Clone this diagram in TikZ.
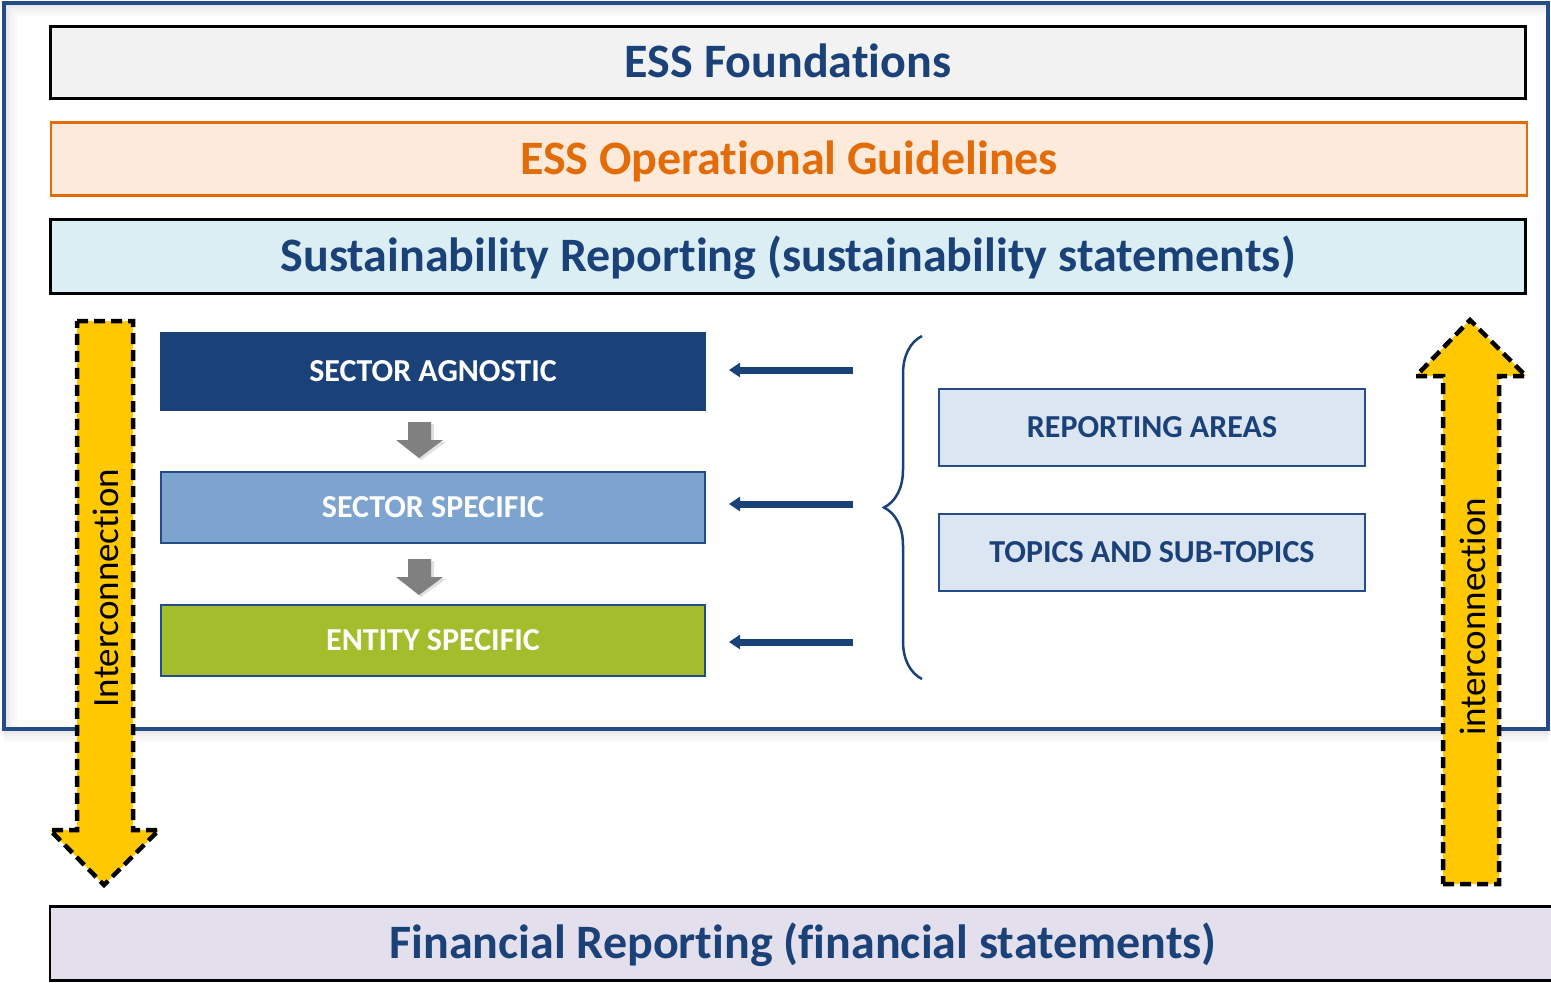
\documentclass[tikz,border=0pt]{standalone}
\usepackage{fontspec}
\setmainfont{Carlito}[Ligatures=NoCommon]
\usetikzlibrary{arrows.meta,decorations.pathreplacing,calc}

\definecolor{navy}{HTML}{1B4179}
\definecolor{frameblue}{HTML}{244C87}
\definecolor{skyblock}{HTML}{7DA4CF}
\definecolor{leafgreen}{HTML}{A3BD2D}
\definecolor{orangeink}{HTML}{E36C0A}
\definecolor{orangewash}{HTML}{FDEADA}
\definecolor{cyanwash}{HTML}{DAEEF3}
\definecolor{bluewash}{HTML}{DCE6F2}
\definecolor{lavender}{HTML}{E4DFEC}
\definecolor{paleGrey}{HTML}{F2F2F2}
\definecolor{amber}{HTML}{FFC800}
\definecolor{stepgrey}{HTML}{808080}

\tikzset{
  band/.style={draw=black, line width=2.5pt, inner sep=0pt,
    font=\fontsize{48}{54}\selectfont\bfseries, text=navy,
    text height=30.5pt, text depth=0pt},
  level/.style={inner sep=0pt, line width=2pt, draw=frameblue,
    font=\fontsize{32}{38}\selectfont\bfseries, text=white,
    minimum width=544, minimum height=71,
    text height=20.5pt, text depth=0pt},
  topic/.style={level, fill=bluewash, text=navy, minimum width=426, minimum height=77},
  feed/.style={line width=7pt, draw=navy, -{Triangle[length=11pt,width=14pt]}},
  bigarrow/.style={fill=amber, draw=black, line width=4.5pt,
    dash pattern=on 11pt off 6pt},
  sidelabel/.style={font=\fontsize{37}{44}\selectfont, text=black, rotate=90, inner sep=0pt}
}

\begin{document}
\begin{tikzpicture}[x=1pt,y=-1pt]
\clip (0,0) rectangle (1551,983);
\fill[white] (0,0) rectangle (1551,983);

% outer frame with a soft shadow
\foreach \k/\o in {1/0.10,2/0.08,3/0.06,4/0.04,5/0.03,6/0.02}{
  \draw[black, opacity=\o, line width=2pt] (4+2*\k,3+2*\k) -- (1548,3+2*\k);
  \draw[black, opacity=\o, line width=2pt] (4+2*\k,3+2*\k) -- (4+2*\k,729);
  \draw[black, opacity=\o, line width=2pt] (4,729+2*\k) -- (1548,729+2*\k);
}
\draw[frameblue, line width=3.5pt] (4,3) rectangle (1548,729);

% three stacked bands at the top
\node[band, fill=paleGrey, minimum width=1475, minimum height=72]
  (found) at (788,62.5) {ESS Foundations};
\node[band, fill=orangewash, draw=orangeink, text=orangeink,
  minimum width=1476, minimum height=73]
  (guide) at (789,159) {ESS Operational Guidelines};
\node[band, fill=cyanwash, minimum width=1475, minimum height=74]
  (sust) at (788,256.5) {Sustainability Reporting (sustainability statements)};

% reporting levels
\node[level, fill=navy, draw=none, minimum width=546, minimum height=79]
  (agn) at (433,371.5) {SECTOR AGNOSTIC};
\node[level, fill=skyblock] (sec) at (433,507.5) {SECTOR SPECIFIC};
\node[level, fill=leafgreen] (ent) at (433,640.5) {ENTITY SPECIFIC};

% grey step arrows between the levels
\foreach \top in {422,559}{
  \fill[black, opacity=0.12] (410,\top+2) -- (434,\top+2) -- (434,\top+20) -- (446,\top+20)
    -- (421,\top+38) -- (399,\top+20) -- (410,\top+20) -- cycle;
  \fill[stepgrey] (408,\top) -- (431,\top) -- (431,\top+18) -- (443,\top+18)
    -- (419,\top+36) -- (396,\top+18) -- (408,\top+18) -- cycle;
}

% topic boxes
\node[topic] (areas) at (1152,427) {REPORTING AREAS};
\node[topic] (topics) at (1152,552) {TOPICS AND SUB-TOPICS};

% brace grouping the topics
\coordinate (braceB) at (922,679);
\coordinate (braceT) at (922,336);
\draw[navy, line width=2.5pt, decorate,
  decoration={brace, amplitude=38pt, aspect=0.5}] (braceB) -- (braceT);

% feeds from the brace to each level
\coordinate (f1) at (853,370);
\coordinate (f2) at (853,504);
\coordinate (f3) at (853,642);
\draw[feed] (f1) -- (f1 -| 729,0);
\draw[feed] (f2) -- (f2 -| 729,0);
\draw[feed] (f3) -- (f3 -| 729,0);

% financial reporting band
\node[band, fill=lavender, minimum width=1506, minimum height=74]
  (fin) at (803,943.5) {Financial Reporting (financial statements)};

% interconnection arrows
\draw[bigarrow] (77,321) -- (133,321) -- (133,830) -- (159,830) -- (104,885)
  -- (50,830) -- (77,830) -- cycle;
\node[sidelabel] (downlbl) at (106,588) {Interconnection};

\draw[bigarrow] (1443,884) -- (1499,884) -- (1499,376) -- (1526,376) -- (1470,320)
  -- (1416,376) -- (1443,376) -- cycle;
\node[sidelabel] (uplbl) at (1473,617) {interconnection};
\end{tikzpicture}
\end{document}
